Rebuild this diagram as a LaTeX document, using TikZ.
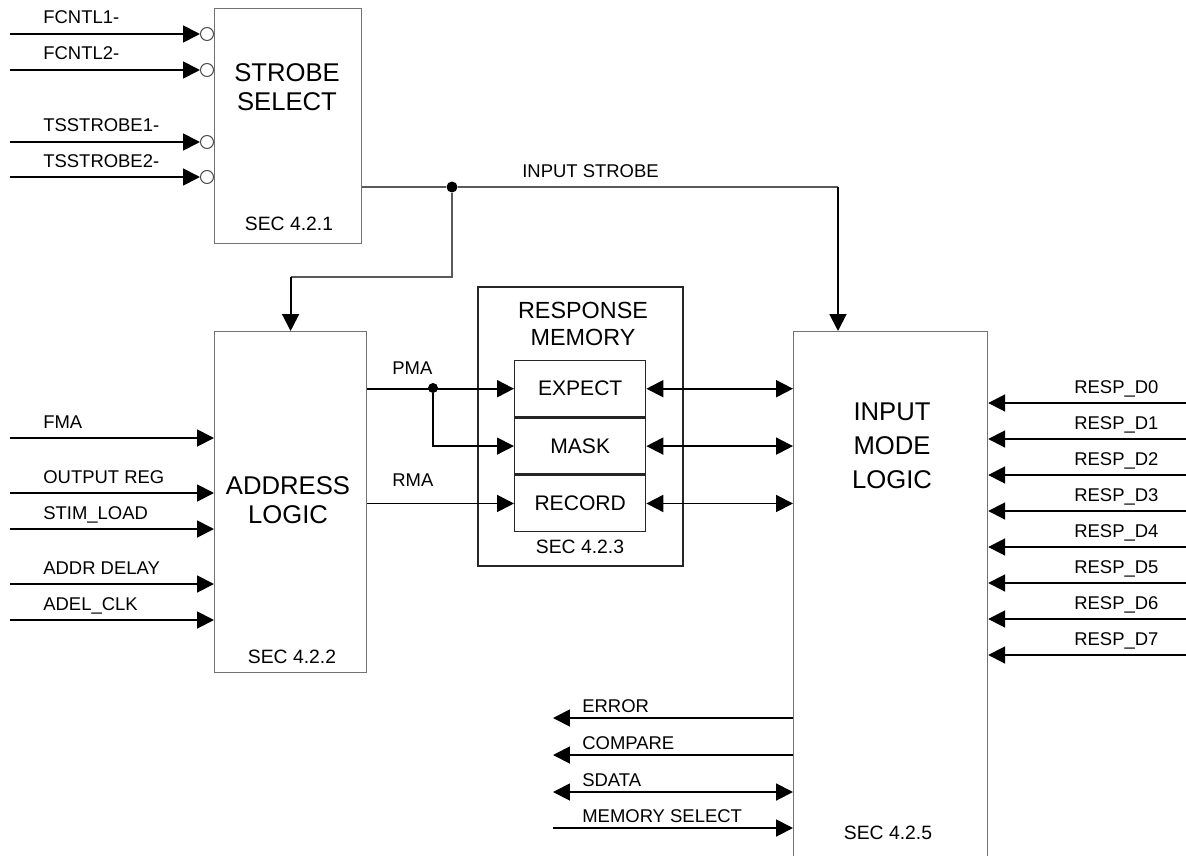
\documentclass[tikz,border=0pt]{standalone}
\usepackage{fontspec}
\setmainfont{Liberation Sans}
\usetikzlibrary{arrows.meta}
\usetikzlibrary{positioning}
\usetikzlibrary{calc}
\tikzstyle{block}=[draw=black!55,line width=0.7pt,rectangle,inner sep=0pt]
\tikzstyle{cell}=[draw=black!85,line width=0.8pt,rectangle,inner sep=0pt,minimum width=2.62cm,minimum height=1.12cm,font=\fontsize{12}{14}\selectfont]
\tikzstyle{sig}=[line width=1.1pt,->]
\tikzstyle{lsig}=[line width=1.1pt,<-]
\tikzstyle{bisig}=[line width=1.1pt,<->]
\tikzstyle{wire}=[line width=0.65pt,draw=black!65]
\tikzstyle{lbl}=[anchor=base west,inner sep=0pt,font=\fontsize{10.5}{12}\selectfont]
\tikzstyle{title}=[align=center,inner sep=0pt,font=\fontsize{14.6}{16.5}\selectfont]
\tikzstyle{sec}=[inner sep=0pt,font=\fontsize{11}{13}\selectfont]
\tikzstyle{dot}=[circle,fill=black,inner sep=0pt,minimum size=0.22cm]
\tikzstyle{bubble}=[circle,draw=black!70,line width=0.6pt,inner sep=0pt,minimum size=0.26cm]

\begin{document}
\begin{tikzpicture}[
  x=0.02cm, y=-0.02cm,
  >={Triangle[length=9.6pt,width=9.6pt]},
]
  \clip (0,0) rectangle (1186,855);
  \fill[white] (0,0) rectangle (1186,855);
  % blocks
  \node[block,anchor=north west,minimum width=2.94cm,minimum height=4.7cm] (strobe) at (214,8) {};
  \node[block,anchor=north west,minimum width=3.04cm,minimum height=6.82cm] (adr) at (214,331) {};
  \node[block,anchor=north west,draw=black!85,line width=0.9pt,minimum width=4.1cm,minimum height=5.58cm] (rmem) at (477,286) {};
  \node[block,anchor=north west,minimum width=3.88cm,minimum height=11.5cm] (iml) at (793,331) {};
  \node[cell,anchor=north west] (expect) at (514,360) {EXPECT};
  \node[cell,below=0pt of expect] (mask) {MASK};
  \node[cell,below=0pt of mask] (record) {RECORD};
  % block texts
  \node[title] (sst) at (287,87) {STROBE\\SELECT};
  \node[sec] (sec1) at (289,224) {SEC 4.2.1};
  \node[title] (alt) at (288,500) {ADDRESS\\LOGIC};
  \node[sec] (sec2) at (292,657) {SEC 4.2.2};
  \node[title,font=\fontsize{13.3}{15}\selectfont] (rmt) at (583,324) {RESPONSE\\MEMORY};
  \node[sec] (sec3) at (580,547) {SEC 4.2.3};
  \node[title,font=\fontsize{14.6}{19.4}\selectfont] (imt) at (892,446) {INPUT\\MODE\\LOGIC};
  \node[sec] (sec5) at (888,833) {SEC 4.2.5};
  % strobe inputs
  \foreach \y/\t/\n in {34/FCNTL1-/1, 70/FCNTL2-/2, 142/TSSTROBE1-/3, 177/TSSTROBE2-/4} {
    \node[bubble] (bub\n) at (207,\y) {};
    \coordinate (sin\n) at (10,\y);
    \draw[sig] (sin\n) -- (bub\n.west);
    \node[lbl] (slbl\n) at (43,\y-10) {\t};
  }
  % input strobe
  \node[dot] (jn) at (452,187) {};
  \coordinate (adrtap) at (adr.north |- 0,277);
  \coordinate (imltap) at ([xshift=0.9cm]iml.north west |- jn);
  \draw[wire] (strobe.east |- jn) -- (jn) -- (imltap);
  \draw[wire] (jn) |- (adrtap);
  \draw[sig] (adrtap) -- (adr.north);
  \draw[sig] (imltap) -- ([xshift=0.9cm]iml.north west);
  \node[lbl] (isl) at (522,177) {INPUT STROBE};
  % address inputs
  \foreach \y/\t/\n in {438/FMA/1, 493/OUTPUT REG/2, 529/STIM\_LOAD/3, 584/ADDR DELAY/4, 620/ADEL\_CLK/5} {
    \coordinate (ai\n) at (10,\y);
    \draw[sig] (ai\n) -- (ai\n -| adr.west);
    \node[lbl] (albl\n) at (43,\y-10) {\t};
  }
  % memory addresses
  \node[dot,minimum size=0.2cm] (pdot) at (433,388) {};
  \draw[sig] (adr.east |- expect.west) -- (expect.west);
  \draw[line width=0.8pt,->] (pdot) |- (mask.west);
  \draw[sig] (adr.east |- record.west) -- (record.west);
  \node[lbl] (pma) at (392,374) {PMA};
  \node[lbl] (rma) at (392,486) {RMA};
  \foreach \c in {expect,mask,record}
    \draw[bisig] (\c.east) -- (\c.east -| iml.west);
  % response data
  \foreach \i in {0,...,7} {
    \coordinate (rd\i) at (1186,403+36*\i);
    \draw[sig] (rd\i) -- (rd\i -| iml.east);
    \node[lbl] (rdl\i) at (1074,393+36*\i) {RESP\_D\i};
  }
  % outputs
  \foreach \y/\t/\n/\s in {718/ERROR/1/lsig, 755/COMPARE/2/lsig, 792/SDATA/3/bisig, 828/MEMORY SELECT/4/sig} {
    \coordinate (bo\n) at (553,\y);
    \draw[\s] (bo\n) -- (bo\n -| iml.west);
    \node[lbl] (blbl\n) at (582,\y-6) {\t};
  }
\end{tikzpicture}
\end{document}
